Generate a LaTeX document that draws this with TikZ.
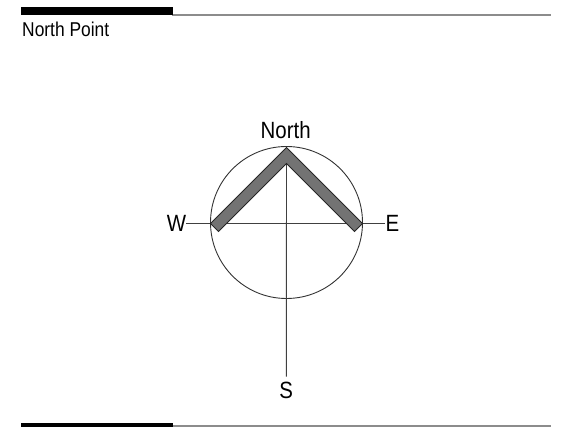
\documentclass[tikz,border=0pt]{standalone}
\usepackage{fontspec}
\setmainfont{Liberation Sans}[FakeStretch=0.87]
\begin{document}
\begin{tikzpicture}[x=1pt,y=-1pt,
  lbl/.style={inner sep=0pt,font=\fontsize{23.5}{26}\selectfont},
  ttl/.style={inner sep=0pt,font=\fontsize{20}{24}\selectfont,anchor=west},
  rule/.style={draw=black!45,line width=1.6pt},
  barblk/.style={fill=black},
  thinline/.style={draw=black!75,line width=0.9pt},
  ring/.style={draw=black!80,line width=0.9pt,circle,minimum size=152pt,inner sep=0pt},
  chev/.style={fill=black!55,draw=black!85,line width=0.8pt,line join=miter}]
\useasboundingbox (0,0) rectangle (573,427);
% header / footer bars
\draw[rule] (172,15) -- (551,15);
\fill[barblk] (21,7.5) rectangle (173,15.5);
\draw[rule] (172,426) -- (551,426);
\fill[barblk] (21,423.3) rectangle (173,427);
\node[ttl] (title) at (22,29.2) {North Point};
% compass
\node[ring] (c) at (286.5,222.5) {};
\node[lbl] (n) at (285.7,130.5) {North};
\node[lbl] (w) at (176.5,223) {W};
\node[lbl] (e) at (392.5,223) {E};
\node[lbl] (s) at (286.3,390.7) {S};
\coordinate (apex) at (286.5,147.5);
\coordinate (inner) at (286.5,163.5);
\draw[thinline] (w.east) -- (e.west);
\draw[thinline,shorten >=5.5pt] (inner) -- (s.north);
\filldraw[chev] (apex) -- (362.5,223.5) -- (354.5,231.5) -- (inner) -- (218.5,231.5) -- (210.5,223.5) -- cycle;
\end{tikzpicture}
\end{document}
